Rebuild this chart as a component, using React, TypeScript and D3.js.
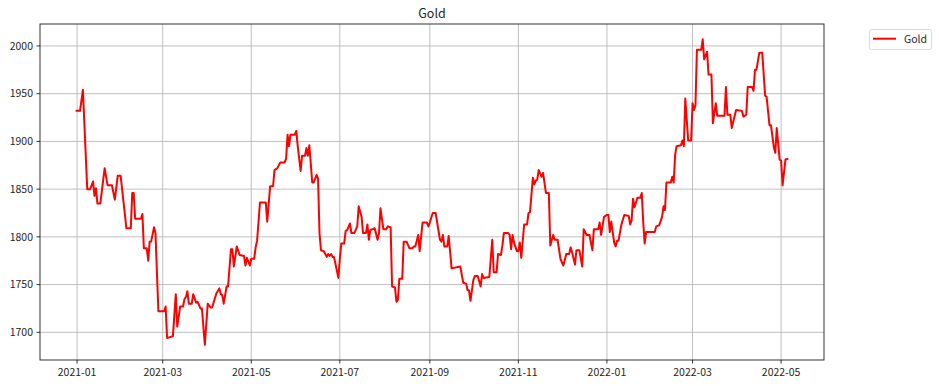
import React from "react";
import * as d3 from "d3";

const chartTitle = "Gold";
const seriesName = "Gold";

const dates = [
  "2020-12-31","2021-01-03","2021-01-05","2021-01-08","2021-01-10","2021-01-12","2021-01-13","2021-01-14","2021-01-15","2021-01-17",
  "2021-01-20","2021-01-22","2021-01-25","2021-01-27","2021-01-29","2021-01-31","2021-02-04","2021-02-07","2021-02-08","2021-02-09",
  "2021-02-10","2021-02-14","2021-02-15","2021-02-16","2021-02-18","2021-02-19","2021-02-20","2021-02-21","2021-02-23","2021-02-24",
  "2021-02-26","2021-03-02","2021-03-03","2021-03-04","2021-03-06","2021-03-08","2021-03-10","2021-03-11","2021-03-13","2021-03-15",
  "2021-03-16","2021-03-17","2021-03-18","2021-03-19","2021-03-21","2021-03-22","2021-03-24","2021-03-25","2021-03-27","2021-03-28",
  "2021-03-30","2021-04-01","2021-04-03","2021-04-04","2021-04-07","2021-04-09","2021-04-10","2021-04-11","2021-04-12","2021-04-14",
  "2021-04-15","2021-04-17","2021-04-18","2021-04-19","2021-04-21","2021-04-23","2021-04-26","2021-04-27","2021-04-28","2021-04-30",
  "2021-05-01","2021-05-03","2021-05-04","2021-05-05","2021-05-07","2021-05-11","2021-05-12","2021-05-14","2021-05-16","2021-05-17",
  "2021-05-19","2021-05-21","2021-05-24","2021-05-25","2021-05-26","2021-05-27","2021-05-28","2021-05-31","2021-06-01","2021-06-02",
  "2021-06-04","2021-06-05","2021-06-07","2021-06-08","2021-06-09","2021-06-10","2021-06-12","2021-06-13","2021-06-15","2021-06-16",
  "2021-06-17","2021-06-18","2021-06-20","2021-06-22","2021-06-23","2021-06-24","2021-06-25","2021-06-26","2021-06-27","2021-06-30",
  "2021-07-01","2021-07-02","2021-07-04","2021-07-05","2021-07-06","2021-07-08","2021-07-09","2021-07-11","2021-07-13","2021-07-14",
  "2021-07-16","2021-07-17","2021-07-19","2021-07-20","2021-07-21","2021-07-22","2021-07-25","2021-07-27","2021-07-28","2021-07-29",
  "2021-07-31","2021-08-02","2021-08-03","2021-08-05","2021-08-06","2021-08-08","2021-08-09","2021-08-10","2021-08-11","2021-08-13",
  "2021-08-14","2021-08-16","2021-08-18","2021-08-20","2021-08-21","2021-08-22","2021-08-24","2021-08-25","2021-08-27","2021-08-30",
  "2021-08-31","2021-09-01","2021-09-03","2021-09-05","2021-09-08","2021-09-09","2021-09-10","2021-09-11","2021-09-13","2021-09-14",
  "2021-09-16","2021-09-22","2021-09-24","2021-09-26","2021-09-27","2021-09-28","2021-09-29","2021-10-01","2021-10-02","2021-10-04",
  "2021-10-06","2021-10-07","2021-10-08","2021-10-12","2021-10-14","2021-10-15","2021-10-17","2021-10-18","2021-10-20","2021-10-21",
  "2021-10-22","2021-10-25","2021-10-26","2021-10-27","2021-10-28","2021-10-29","2021-10-31","2021-11-01","2021-11-02","2021-11-03",
  "2021-11-05","2021-11-07","2021-11-08","2021-11-09","2021-11-11","2021-11-12","2021-11-13","2021-11-14","2021-11-15","2021-11-17",
  "2021-11-18","2021-11-20","2021-11-22","2021-11-23","2021-11-25","2021-11-26","2021-11-28","2021-11-30","2021-12-02","2021-12-04",
  "2021-12-06","2021-12-07","2021-12-08","2021-12-10","2021-12-11","2021-12-13","2021-12-15","2021-12-16","2021-12-18","2021-12-20",
  "2021-12-22","2021-12-23","2021-12-26","2021-12-27","2021-12-28","2021-12-30","2022-01-01","2022-01-02","2022-01-03","2022-01-04",
  "2022-01-06","2022-01-07","2022-01-08","2022-01-09","2022-01-11","2022-01-13","2022-01-16","2022-01-17","2022-01-18","2022-01-19",
  "2022-01-20","2022-01-22","2022-01-24","2022-01-25","2022-01-26","2022-01-27","2022-01-28","2022-02-03","2022-02-04","2022-02-06",
  "2022-02-08","2022-02-09","2022-02-10","2022-02-11","2022-02-14","2022-02-15","2022-02-16","2022-02-17","2022-02-18","2022-02-21",
  "2022-02-22","2022-02-23","2022-02-24","2022-02-26","2022-02-28","2022-03-01","2022-03-02","2022-03-03","2022-03-04","2022-03-07",
  "2022-03-08","2022-03-09","2022-03-11","2022-03-12","2022-03-14","2022-03-15","2022-03-17","2022-03-18","2022-03-23","2022-03-24",
  "2022-03-25","2022-03-27","2022-03-28","2022-03-31","2022-04-04","2022-04-05","2022-04-07","2022-04-08","2022-04-11","2022-04-12",
  "2022-04-13","2022-04-14","2022-04-16","2022-04-18","2022-04-20","2022-04-21","2022-04-23","2022-04-24","2022-04-26","2022-04-27",
  "2022-04-28","2022-04-30","2022-05-01","2022-05-02","2022-05-04","2022-05-06"
];

const values = [
  1932,1932,1954,1850,1850,1858,1843,1851,1835,1835,
  1872,1854,1854,1839,1864,1864,1809,1809,1846,1846,
  1819,1819,1824,1788,1788,1775,1795,1795,1810,1804,
  1722,1722,1727,1694,1695,1696,1740,1706,1727,1727,
  1735,1737,1743,1730,1730,1740,1731,1732,1725,1725,
  1687,1730,1726,1726,1741,1746,1740,1739,1730,1748,
  1748,1787,1787,1769,1790,1781,1780,1770,1778,1770,
  1777,1777,1789,1796,1836,1836,1816,1853,1853,1870,
  1872,1878,1878,1882,1907,1895,1907,1907,1911,1895,
  1869,1885,1885,1893,1885,1896,1857,1857,1865,1861,
  1804,1786,1785,1779,1782,1780,1782,1779,1779,1757,
  1777,1793,1793,1806,1807,1814,1804,1804,1811,1832,
  1821,1804,1804,1813,1797,1807,1809,1797,1804,1830,
  1808,1808,1811,1810,1748,1747,1732,1734,1756,1756,
  1795,1795,1788,1788,1790,1790,1802,1785,1815,1815,
  1811,1815,1825,1825,1797,1795,1802,1790,1790,1801,
  1767,1769,1752,1751,1744,1744,1733,1755,1759,1759,
  1748,1761,1757,1758,1797,1763,1763,1782,1781,1791,
  1804,1804,1802,1787,1802,1794,1785,1785,1794,1778,
  1813,1813,1825,1826,1862,1855,1859,1860,1870,1863,
  1867,1846,1846,1791,1802,1797,1797,1777,1770,1782,
  1782,1789,1784,1771,1786,1786,1769,1808,1802,1802,
  1786,1808,1808,1815,1802,1821,1823,1823,1805,1816,
  1794,1790,1796,1796,1813,1823,1822,1813,1817,1840,
  1831,1841,1841,1846,1816,1793,1805,1805,1811,1812,
  1821,1832,1828,1857,1857,1863,1857,1886,1895,1896,
  1901,1895,1945,1901,1901,1940,1933,1938,1996,1996,
  2007,1986,1994,1970,1970,1919,1940,1927,1927,1957,
  1928,1928,1914,1933,1932,1926,1928,1957,1957,1953,
  1975,1975,1993,1993,1948,1947,1917,1917,1894,1888,
  1914,1881,1880,1854,1881,1882
];

const yTickValues = [1700, 1750, 1800, 1850, 1900, 1950, 2000];

const W = 939;
const H = 386;
const PLOT = { left: 40, top: 24, right: 824, bottom: 360 };
const FONT = "'Noto Sans CJK KR', 'Noto Sans', sans-serif";
const TEXT = "#262626";

export default function App() {
  const parse = d3.timeParse("%Y-%m-%d");
  const data = dates.map((d, i) => ({ date: parse(d) as Date, value: values[i] }));

  const [xMin, xMax] = d3.extent(data, (d) => d.date) as [Date, Date];
  const xSpan = xMax.getTime() - xMin.getTime();
  const x = d3
    .scaleTime()
    .domain([new Date(xMin.getTime() - 0.05 * xSpan), new Date(xMax.getTime() + 0.05 * xSpan)])
    .range([PLOT.left, PLOT.right]);

  const [yMin, yMax] = d3.extent(values) as [number, number];
  const ySpan = yMax - yMin;
  const y = d3
    .scaleLinear()
    .domain([yMin - 0.05 * ySpan, yMax + 0.05 * ySpan])
    .range([PLOT.bottom, PLOT.top]);

  const xTicks = x.ticks(d3.timeMonth.every(2) as d3.TimeInterval);
  const fmt = d3.timeFormat("%Y-%m");

  const line = d3
    .line<{ date: Date; value: number }>()
    .x((d) => x(d.date))
    .y((d) => y(d.value));

  return (
    <svg
      width={W}
      height={H}
      style={{ position: "absolute", left: 0, top: 0, background: "#fff" }}
      fontFamily={FONT}
    >
      <rect x={0} y={0} width={W} height={H} fill="#fff" />
      {/* grid */}
      <g stroke="#b0b0b0" strokeWidth={0.8}>
        {xTicks.map((t, i) => (
          <line key={"gx" + i} x1={x(t)} x2={x(t)} y1={PLOT.top} y2={PLOT.bottom} />
        ))}
        {yTickValues.map((v) => (
          <line key={"gy" + v} x1={PLOT.left} x2={PLOT.right} y1={y(v)} y2={y(v)} />
        ))}
      </g>
      {/* series */}
      <path
        d={line(data) || ""}
        fill="none"
        stroke="#ff0000"
        strokeWidth={2}
        strokeLinejoin="round"
      />
      {/* spines */}
      <rect
        x={PLOT.left}
        y={PLOT.top}
        width={PLOT.right - PLOT.left}
        height={PLOT.bottom - PLOT.top}
        fill="none"
        stroke="#000"
        strokeWidth={0.8}
      />
      {/* x ticks */}
      <g>
        {xTicks.map((t, i) => (
          <g key={"xt" + i} transform={`translate(${x(t)},0)`}>
            <line y1={PLOT.bottom} y2={PLOT.bottom + 3.5} stroke="#000" strokeWidth={0.8} />
            <text y={376} textAnchor="middle" fontSize={10.5} fill={TEXT}>
              {fmt(t)}
            </text>
          </g>
        ))}
      </g>
      {/* y ticks */}
      <g>
        {yTickValues.map((v) => (
          <g key={"yt" + v} transform={`translate(0,${y(v)})`}>
            <line x1={PLOT.left - 3.5} x2={PLOT.left} stroke="#000" strokeWidth={0.8} />
            <text x={PLOT.left - 7} dy="0.35em" textAnchor="end" fontSize={10.5} fill={TEXT}>
              {v}
            </text>
          </g>
        ))}
      </g>
      {/* title */}
      <text x={(PLOT.left + PLOT.right) / 2} y={18} textAnchor="middle" fontSize={12.5} fill={TEXT}>
        {chartTitle}
      </text>
      {/* legend */}
      <g>
        <rect x={869.5} y={29.5} width={62} height={20} rx={2} fill="#fff" stroke="#d0d0d0" strokeWidth={0.8} />
        <line x1={873} x2={896} y1={38.7} y2={38.7} stroke="#ff0000" strokeWidth={2} />
        <text x={904} y={43} fontSize={10.5} fill={TEXT}>
          {seriesName}
        </text>
      </g>
    </svg>
  );
}
